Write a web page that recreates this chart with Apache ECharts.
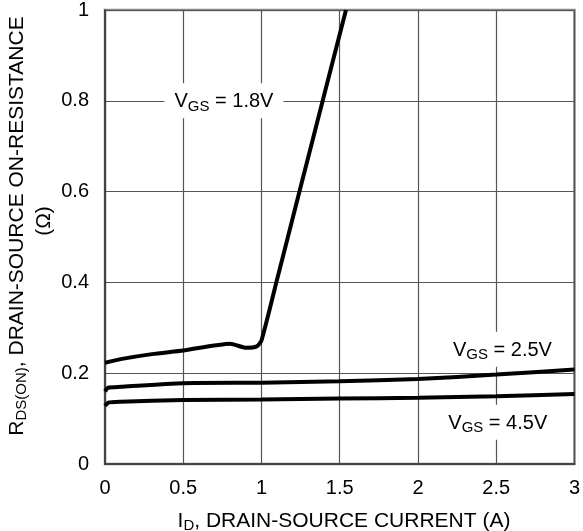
<!DOCTYPE html>
<html>
<head>
<meta charset="utf-8">
<script src="https://cdn.jsdelivr.net/npm/echarts@6/dist/echarts.min.js"></script>
<style>
html,body{margin:0;padding:0;background:#fff;}
#chart{width:583px;height:531px;}
</style>
</head>
<body>
<div id="chart"></div>
<script>
// Data
const xTicks = [0, 0.5, 1, 1.5, 2, 2.5, 3];
const yTicks = [0, 0.2, 0.4, 0.6, 0.8, 1];

const vgs18X = [0, 0.1, 0.3, 0.5, 0.8, 0.9, 0.97, 1.0, 1.1, 1.25, 1.4, 1.54];
const vgs18Y = [0.223, 0.231, 0.242, 0.250, 0.265, 0.256, 0.259, 0.272, 0.407, 0.610, 0.812, 1.0];

const vgs25X = [0, 0.02, 0.1, 0.5, 1.0, 1.5, 2.0, 2.5, 3.0];
const vgs25Y = [0.160, 0.168, 0.170, 0.178, 0.179, 0.182, 0.187, 0.197, 0.208];

const vgs45X = [0, 0.02, 0.1, 0.5, 1.0, 1.5, 2.0, 2.5, 3.0];
const vgs45Y = [0.128, 0.135, 0.137, 0.141, 0.142, 0.144, 0.146, 0.149, 0.154];

const curveLabels = [
  { text: '1.8V', x: 0.76, y: 0.8 },
  { text: '2.5V', x: 2.54, y: 0.253 },
  { text: '4.5V', x: 2.51, y: 0.092 }
];

const FONT = 'Liberation Sans, Arial, sans-serif';

function pairs(xs, ys) { return xs.map((x, i) => [x, ys[i]]); }

const richLbl = {
  v: { fontSize: 20, fontFamily: FONT, color: '#000' },
  s: { fontSize: 15, fontFamily: FONT, color: '#000', padding: [10, 0, 0, 0] }
};

function makeSeries(name, xs, ys, lbl) {
  return {
    name: name,
    type: 'line',
    data: pairs(xs, ys),
    showSymbol: false,
    smooth: 0.2,
    lineStyle: { color: '#000', width: 4 },
    z: 5,
    markPoint: lbl ? {
      symbol: 'circle',
      symbolSize: 0,
      silent: true,
      data: [{ coord: [lbl.x, lbl.y], value: lbl.text }],
      label: {
        show: true,
        position: 'inside',
        formatter: '{v|V}{s|GS}{v| = ' + lbl.text + '}',
        backgroundColor: '#fff',
        padding: [6, 10, 4, 10],
        rich: richLbl
      }
    } : undefined
  };
}

const chart = echarts.init(document.getElementById('chart'), null, { renderer: 'canvas' });

chart.setOption({
  backgroundColor: '#fff',
  animation: false,
  grid: {
    left: 105, right: 4, top: 6, bottom: 67,
    show: true, borderColor: '#8a8a8a', borderWidth: 2.5, backgroundColor: 'transparent'
  },
  xAxis: {
    type: 'value',
    min: xTicks[0], max: xTicks[xTicks.length - 1], interval: 0.5,
    axisLine: { show: true, lineStyle: { color: '#444', width: 2 } },
    axisTick: { show: false },
    splitLine: { show: true, lineStyle: { color: '#555', width: 1.2 } },
    axisLabel: { fontSize: 20, fontFamily: FONT, color: '#000', margin: 14,
      formatter: v => String(v) }
  },
  yAxis: {
    type: 'value',
    min: yTicks[0], max: yTicks[yTicks.length - 1], interval: 0.2,
    axisLine: { show: true, lineStyle: { color: '#444', width: 2 } },
    axisTick: { show: false },
    splitLine: { show: true, lineStyle: { color: '#555', width: 1.2 } },
    axisLabel: { fontSize: 20, fontFamily: FONT, color: '#000', margin: 16,
      formatter: v => String(Math.round(v * 10) / 10) }
  },
  graphic: [
    {
      type: 'text',
      x: 344, y: 521,
      style: {
        text: '{v|I}{s|D}{v|, DRAIN-SOURCE CURRENT (A)}',
        align: 'center', verticalAlign: 'middle',
        rich: {
          v: { fontSize: 21, fontFamily: FONT, fill: '#000' },
          s: { fontSize: 15, fontFamily: FONT, fill: '#000', padding: [10, 0, 0, 0] }
        }
      }
    },
    {
      type: 'text',
      x: 17, y: 226,
      rotation: Math.PI / 2,
      style: {
        text: '{v|R}{s|DS(ON)}{v|, DRAIN-SOURCE ON-RESISTANCE}',
        align: 'center', verticalAlign: 'middle',
        rich: {
          v: { fontSize: 21, fontFamily: FONT, fill: '#000' },
          s: { fontSize: 15, fontFamily: FONT, fill: '#000', padding: [10, 0, 0, 0] }
        }
      }
    },
    {
      type: 'text',
      x: 44, y: 221,
      rotation: Math.PI / 2,
      style: {
        text: '(\u03A9)',
        align: 'center', verticalAlign: 'middle',
        fontSize: 21, fontFamily: FONT, fill: '#000'
      }
    }
  ],
  series: [
    makeSeries('VGS=1.8V', vgs18X, vgs18Y, curveLabels[0]),
    makeSeries('VGS=2.5V', vgs25X, vgs25Y, curveLabels[1]),
    makeSeries('VGS=4.5V', vgs45X, vgs45Y, curveLabels[2])
  ]
});
</script>
</body>
</html>
